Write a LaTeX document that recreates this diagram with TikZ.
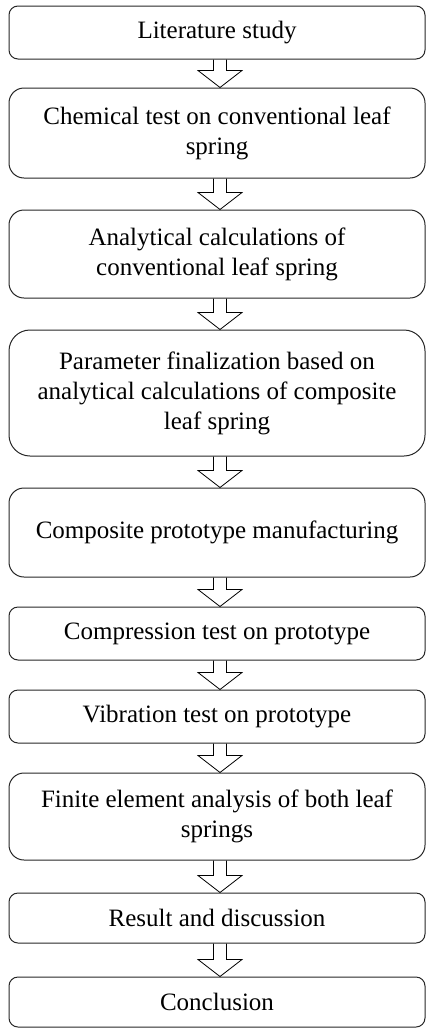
\documentclass[tikz,border=0pt]{standalone}
\usepackage{fontspec}
\setmainfont{Liberation Serif}
\usetikzlibrary{calc}

\begin{document}
\begin{tikzpicture}
    [x=1pt, y=-1pt,
    box/.style={draw=black!85, line width=1pt, rounded corners=#1,
        minimum width=416pt, align=center, inner sep=0pt,
        font=\fontsize{25}{30}\selectfont},
    flow/.style={draw=black, line width=0.8pt, line join=miter}]

    \useasboundingbox (0,0) rectangle (428,1028);
    \def\sw{6.5pt}
    \def\hw{22pt}
    \def\hl{17pt}

    % drawing the steps
    \node[box=9pt, minimum height=53pt] (lit) at (217,32.5) {Literature study};
    \node[box=15pt, minimum height=90pt] (chem) at (217,133)
        {Chemical test on conventional leaf\\spring};
    \node[box=15pt, minimum height=88pt] (anal) at (217,254)
        {Analytical calculations of\\conventional leaf spring};
    \node[box=21pt, minimum height=126pt] (param) at (217,393)
        {Parameter finalization based on\\analytical calculations of composite\\leaf spring};
    \node[box=15pt, minimum height=89pt] (proto) at (217,532.5)
        {Composite prototype manufacturing};
    \node[box=9pt, minimum height=53pt] (comp) at (217,633.5)
        {Compression test on prototype};
    \node[box=9pt, minimum height=53pt] (vib) at (217,716.5)
        {Vibration test on prototype};
    \node[box=15pt, minimum height=87pt] (fea) at (217,816.5)
        {Finite element analysis of both leaf\\springs};
    \node[box=9pt, minimum height=50pt] (res) at (217,918) {Result and discussion};
    \node[box=9pt, minimum height=50pt] (concl) at (217,1002) {Conclusion};

    % drawing the hollow arrows between the steps
    \foreach \a/\b in {lit/chem, chem/anal, anal/param, param/proto, proto/comp,
                       comp/vib, vib/fea, fea/res, res/concl}
        \draw[flow] let \p1=(\a.south), \p2=(\b.north) in
            (\x1+3pt-\sw,\y1) -- (\x1+3pt-\sw,\y2+\hl) -- (\x1+3pt-\hw,\y2+\hl)
            -- (\x1+3pt,\y2) -- (\x1+3pt+\hw,\y2+\hl) -- (\x1+3pt+\sw,\y2+\hl)
            -- (\x1+3pt+\sw,\y1);

\end{tikzpicture}
\end{document}
